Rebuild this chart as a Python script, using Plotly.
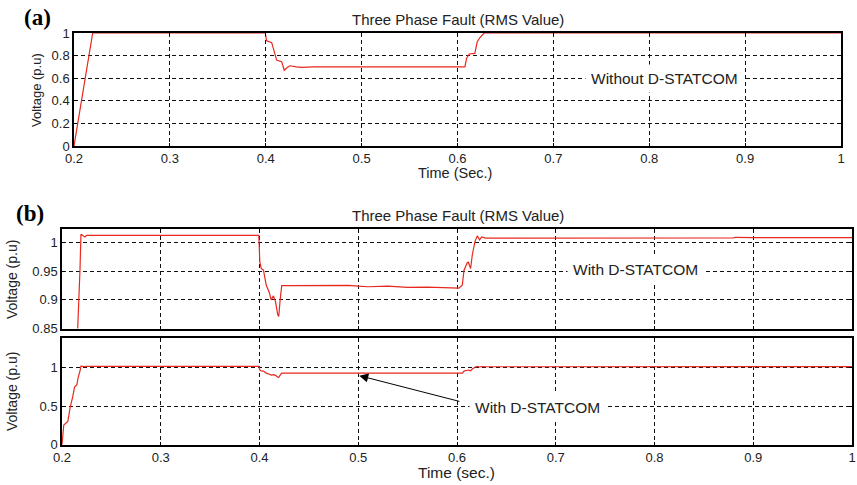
import plotly.graph_objects as go

# ---- data ----
t_without = [0.2, 0.2015, 0.2195, 0.3995, 0.4009, 0.4062, 0.4089, 0.4114, 0.4166, 0.4193, 0.4218,
             0.4252, 0.4322, 0.4374, 0.45, 0.5, 0.55, 0.6077, 0.6095, 0.6122, 0.6181, 0.6205,
             0.6234, 0.6268, 0.6278, 0.8, 1.0]
v_without = [0.0, 0.08, 1.0, 1.0, 0.93, 0.915, 0.82, 0.76, 0.746, 0.67, 0.69,
             0.71, 0.70, 0.696, 0.70, 0.70, 0.70, 0.70, 0.776, 0.814, 0.82, 0.92,
             0.96, 0.99, 1.0, 1.0, 1.0]

t_with = [0.2, 0.2008, 0.2018, 0.2059, 0.2083, 0.2109, 0.2127, 0.215, 0.2159, 0.2163, 0.2182,
          0.2192, 0.2232, 0.225, 0.3, 0.3993, 0.4003, 0.4017, 0.404, 0.405, 0.4068, 0.4101,
          0.4118, 0.4141, 0.4162, 0.4185, 0.4195, 0.4209, 0.4225, 0.43, 0.47, 0.49, 0.5,
          0.51, 0.53, 0.55, 0.57, 0.59, 0.602, 0.6054, 0.6071, 0.6104, 0.6114, 0.6138,
          0.6155, 0.6182, 0.6205, 0.6229, 0.6249, 0.629, 0.7, 0.8, 0.88, 0.882, 0.9, 1.0]
v_with = [0.0, 0.19, 0.255, 0.30, 0.486, 0.623, 0.745, 0.773, 0.85, 0.865, 0.952,
          1.015, 1.010, 1.013, 1.013, 1.013, 0.967, 0.955, 0.952, 0.94, 0.926, 0.912,
          0.90, 0.907, 0.897, 0.874, 0.871, 0.90, 0.925, 0.925, 0.9245, 0.9255, 0.924,
          0.923, 0.924, 0.922, 0.9225, 0.921, 0.9205, 0.926, 0.952, 0.965, 0.966, 0.955,
          0.979, 1.002, 1.012, 1.005, 1.010, 1.008, 1.008, 1.0085, 1.0085, 1.0095, 1.0088, 1.0088]

x_ticks = [0.2, 0.3, 0.4, 0.5, 0.6, 0.7, 0.8, 0.9, 1.0]
x_tick_text = ["0.2", "0.3", "0.4", "0.5", "0.6", "0.7", "0.8", "0.9", "1"]
ya_ticks = [0, 0.2, 0.4, 0.6, 0.8, 1.0]
ya_text = ["0", "0.2", "0.4", "0.6", "0.8", "1"]
yb1_ticks = [0.85, 0.9, 0.95, 1.0]
yb1_text = ["0.85", "0.9", "0.95", "1"]
yb2_ticks = [0, 0.5, 1.0]
yb2_text = ["0", "0.5", "1"]

RED = "#e8281e"
FONT = "Liberation Sans, Arial, sans-serif"
SERIF = "Liberation Serif, Times New Roman, serif"
W, H = 857, 485

fig = go.Figure()
fig.add_trace(go.Scatter(x=t_without, y=v_without, mode="lines", line=dict(color=RED, width=1.2),
                         xaxis="x", yaxis="y", showlegend=False))
fig.add_trace(go.Scatter(x=t_with, y=v_with, mode="lines", line=dict(color=RED, width=1.2),
                         xaxis="x2", yaxis="y2", showlegend=False))
fig.add_trace(go.Scatter(x=t_with, y=v_with, mode="lines", line=dict(color=RED, width=1.2),
                         xaxis="x3", yaxis="y3", showlegend=False))

def px_x(p):
    return p / W

def px_y(p):
    return 1 - p / H

axis_common = dict(showline=True, linecolor="black", linewidth=1.5, mirror="ticks",
                   showgrid=True, gridcolor="#111", griddash="4px,3px", gridwidth=1,
                   ticks="inside", ticklen=3, tickcolor="black", zeroline=False,
                   automargin=False,
                   tickfont=dict(family=FONT, size=13, color="#222"))

fig.update_layout(
    width=W, height=H, margin=dict(l=0, r=0, t=0, b=0),
    plot_bgcolor="white", paper_bgcolor="white",
    font=dict(family=FONT, size=13, color="#222"),
    xaxis=dict(domain=[px_x(74), px_x(841)], range=[0.2, 1.0], anchor="y",
               tickvals=x_ticks, ticktext=x_tick_text, **axis_common),
    yaxis=dict(domain=[px_y(146), px_y(33)], range=[0, 1.0], anchor="x",
               tickvals=ya_ticks, ticktext=ya_text, **axis_common),
    xaxis2=dict(domain=[px_x(62), px_x(852)], range=[0.2, 1.0], anchor="y2",
                tickvals=x_ticks, showticklabels=False, **axis_common),
    yaxis2=dict(domain=[px_y(328.5), px_y(229)], range=[0.85, 1.024], anchor="x2",
                tickvals=yb1_ticks, ticktext=yb1_text, **axis_common),
    xaxis3=dict(domain=[px_x(62), px_x(852)], range=[0.2, 1.0], anchor="y3",
                tickvals=x_ticks, ticktext=x_tick_text, **axis_common),
    yaxis3=dict(domain=[px_y(444.7), px_y(338)], range=[0, 1.38], anchor="x3",
                tickvals=yb2_ticks, ticktext=yb2_text, **axis_common),
)

ann = []
def txt(text, x, y, size=13, family=FONT, color="#222", **kw):
    d = dict(text=text, x=px_x(x), y=px_y(y), xref="paper", yref="paper", showarrow=False,
             font=dict(family=family, size=size, color=color), xanchor="center", yanchor="middle")
    d.update(kw)
    ann.append(d)

txt("Three Phase Fault (RMS Value)", 458, 20, size=15)
txt("Time (Sec.)", 455, 173, size=14.5)
txt("Three Phase Fault (RMS Value)", 458, 215, size=15)
txt("Time (sec.)", 456, 472, size=15.5)
txt("Voltage (p.u)", 36, 90, size=13, textangle=-90)
txt("Voltage (p.u)", 12, 280, size=14, textangle=-90)
txt("Voltage (p.u)", 12, 392, size=14, textangle=-90)
txt("<b>(a)</b>", 37, 18, size=23, family=SERIF, color="black")
txt("<b>(b)</b>", 30, 213, size=23, family=SERIF, color="black")

# in-plot labels
lab_font = dict(family=FONT, size=15.5, color="#222")
ann.append(dict(text="Without D-STATCOM", x=0.816, y=0.593, xref="x", yref="y", showarrow=False,
                bgcolor="white", borderpad=5, font=lab_font))
ann.append(dict(text="With D-STATCOM", x=0.781, y=0.9524, xref="x2", yref="y2", showarrow=False,
                bgcolor="white", borderpad=5, font=lab_font))
ann.append(dict(text="With D-STATCOM", x=0.6813, y=0.477, xref="x3", yref="y3", showarrow=False,
                bgcolor="white", borderpad=5, font=lab_font))
ann.append(dict(text="", x=0.501, y=0.893, xref="x3", yref="y3", ax=0.604, ay=0.555,
                axref="x3", ayref="y3", showarrow=True, arrowhead=2, arrowsize=1.8,
                arrowwidth=1, arrowcolor="black"))
fig.update_layout(annotations=ann)

fig.write_html("out.html", config={"displayModeBar": False},
               post_script="document.body.style.margin='0px';")
